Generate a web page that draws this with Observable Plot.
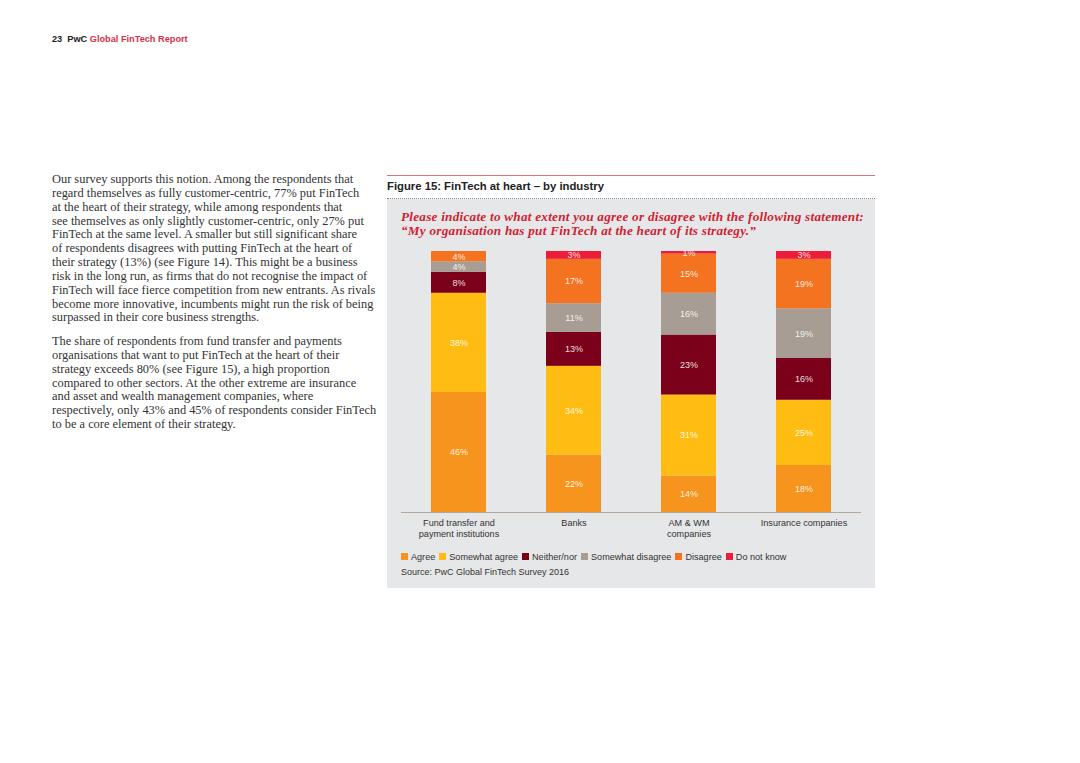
<!DOCTYPE html>
<html>
<head>
<meta charset="utf-8">
<script src="https://cdn.jsdelivr.net/npm/d3@7"></script>
<script src="https://cdn.jsdelivr.net/npm/@observablehq/plot@0.6"></script>
<style>
  html, body { margin: 0; padding: 0; background: #fff; }
  #page { position: relative; width: 1080px; height: 763px; overflow: hidden; background: #fff; }
  .hdr { position: absolute; left: 52px; top: 34px; font: bold 9.2px "Liberation Sans", Arial, sans-serif; color: #222; white-space: nowrap; }
  .hdr .red { color: #d6304a; }
  .body { position: absolute; left: 52px; font: 12.4px/13.85px "Liberation Serif", "Times New Roman", serif; color: #333; white-space: nowrap; }
  .redline { position: absolute; left: 387px; top: 175px; width: 488px; height: 0; border-top: 1px solid #e07080; }
  .ftitle { position: absolute; left: 387px; top: 180px; font: bold 11.3px "Liberation Sans", Arial, sans-serif; color: #222; white-space: nowrap; }
  .dots { position: absolute; left: 387px; top: 198px; width: 488px; height: 0; border-top: 1px dotted #888; }
  .panel { position: absolute; left: 387px; top: 199px; width: 488px; height: 389px; background: #e6e7e8; }
  .sub { position: absolute; left: 401px; top: 210px; font: italic bold 13.2px/14.3px "Liberation Serif", "Times New Roman", serif; letter-spacing: 0.25px; color: #cf1f35; white-space: nowrap; }
  #chart { position: absolute; left: 387px; top: 245px; }
  .legend { position: absolute; left: 401px; top: 552px; font: 9.1px "Liberation Sans", Arial, sans-serif; color: #333; white-space: nowrap; }
  .legend .item { display: inline-block; margin-right: 4px; }
  .legend .sw { display: inline-block; width: 7px; height: 7px; margin-right: 3px; vertical-align: 0px; }
  .source { position: absolute; left: 401px; top: 567px; font: 9.0px "Liberation Sans", Arial, sans-serif; color: #333; white-space: nowrap; }
</style>
</head>
<body>
<div id="page">
  <div class="hdr">23&nbsp; PwC <span class="red">Global FinTech Report</span></div>
  <div class="body" style="top:173px">Our survey supports this notion. Among the respondents that<br>regard themselves as fully customer-centric, 77% put FinTech<br>at the heart of their strategy, while among respondents that<br>see themselves as only slightly customer-centric, only 27% put<br>FinTech at the same level. A smaller but still significant share<br>of respondents disagrees with putting FinTech at the heart of<br>their strategy (13%) (see Figure 14). This might be a business<br>risk in the long run, as firms that do not recognise the impact of<br>FinTech will face fierce competition from new entrants. As rivals<br>become more innovative, incumbents might run the risk of being<br>surpassed in their core business strengths.</div>
  <div class="body" style="top:335px">The share of respondents from fund transfer and payments<br>organisations that want to put FinTech at the heart of their<br>strategy exceeds 80% (see Figure 15), a high proportion<br>compared to other sectors. At the other extreme are insurance<br>and asset and wealth management companies, where<br>respectively, only 43% and 45% of respondents consider FinTech<br>to be a core element of their strategy.</div>
  <div class="redline"></div>
  <div class="ftitle">Figure 15: FinTech at heart – by industry</div>
  <div class="dots"></div>
  <div class="panel"></div>
  <div class="sub">Please indicate to what extent you agree or disagree with the following statement:<br>“My organisation has put FinTech at the heart of its strategy.”</div>
  <div id="chart"></div>
  <div class="legend" id="legend"></div>
  <div class="source">Source: PwC Global FinTech Survey 2016</div>
</div>
<script>
const industries = ["Fund transfer and\npayment institutions", "Banks", "AM & WM\ncompanies", "Insurance companies"];
const responses = ["Agree", "Somewhat agree", "Neither/nor", "Somewhat disagree", "Disagree", "Do not know"];
const colors = ["#f7941d", "#ffbc13", "#7b0019", "#a79d94", "#f47321", "#ec1c3a"];
const agree           = [46, 22, 14, 18];
const somewhatAgree   = [38, 34, 31, 25];
const neitherNor      = [8, 13, 23, 16];
const somewhatDisagree= [4, 11, 16, 19];
const disagree        = [4, 17, 15, 19];
const doNotKnow       = [0, 3, 1, 3];

const series = [agree, somewhatAgree, neitherNor, somewhatDisagree, disagree, doNotKnow];
const data = [];
responses.forEach((r, ri) => {
  industries.forEach((ind, ii) => {
    data.push({industry: ind, response: r, value: series[ri][ii]});
  });
});

const stackOpts = {x: "industry", y: "value", z: "response", order: responses};

const chart = Plot.plot({
  width: 488,
  height: 297,
  marginLeft: 14,
  marginRight: 14,
  marginTop: 6,
  marginBottom: 30,
  style: {background: "transparent", fontFamily: "Liberation Sans, Arial, sans-serif"},
  x: {domain: industries, paddingInner: 0.52, paddingOuter: 0.26, label: null},
  y: {domain: [0, 100], axis: null},
  color: {domain: responses, range: colors},
  marks: [
    Plot.barY(data, Plot.stackY({...stackOpts, fill: "response"})),
    Plot.text(data.filter(d => d.value > 0), Plot.stackY({...stackOpts, y: "value", text: d => d.value + "%", fill: "#ffffff", fillOpacity: 0.88, fontSize: 9})),
    Plot.ruleY([0], {stroke: "#b4a79b", strokeWidth: 1}),
    Plot.axisX({tickSize: 0, tickPadding: 6, fontSize: 9.1, fill: "#333", lineHeight: 1.2})
  ]
});
document.getElementById("chart").appendChild(chart);

const leg = document.getElementById("legend");
responses.forEach((r, i) => {
  const s = document.createElement("span");
  s.className = "item";
  s.innerHTML = `<span class="sw" style="background:${colors[i]}"></span>${r}`;
  leg.appendChild(s);
});
</script>
</body>
</html>
